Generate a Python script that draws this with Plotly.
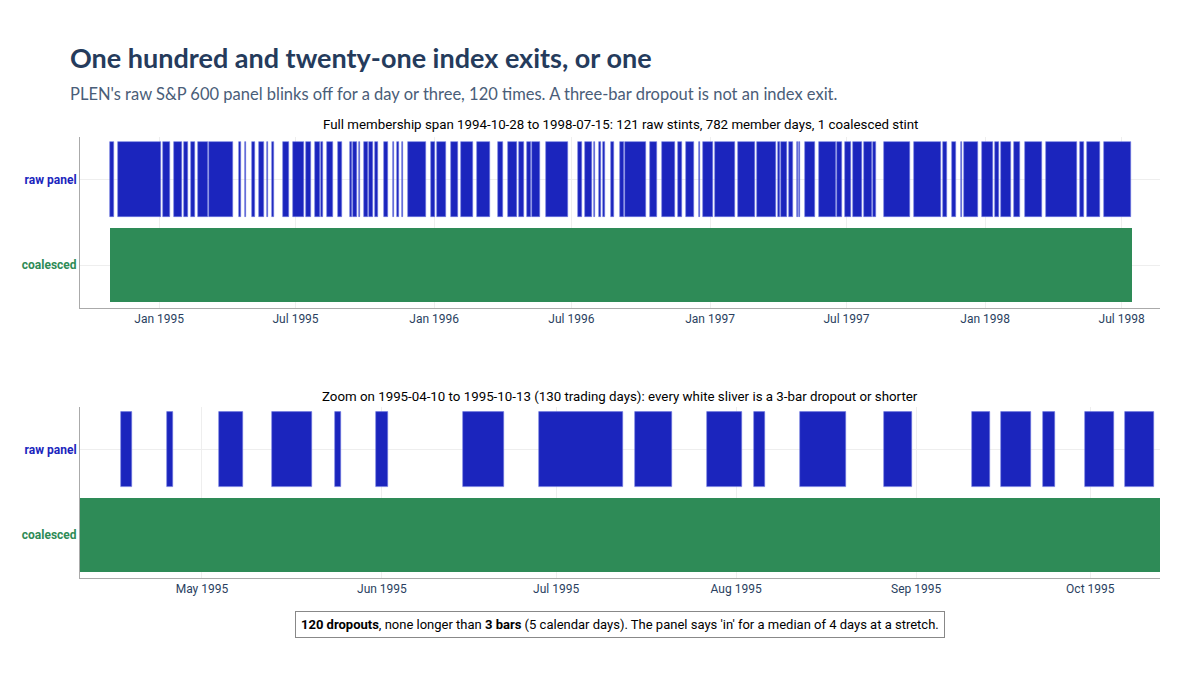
import pandas as pd
import plotly.graph_objects as go
from plotly.subplots import make_subplots

span_start = "1994-10-28"
span_end = "1998-07-15"
zoom_start = "1995-04-10"
zoom_end = "1995-10-13"

# raw stints, as day offsets from span_start (start, end)
raw_start = [0.4, 11.0, 70.4, 84.2, 98.4, 107.5, 117.1, 131.8,
             171, 179, 188, 197, 208, 215, 230, 243, 259.6, 272, 280, 288, 302.4,
             317.6, 322.7, 329.8, 337, 344, 352,
             363.8, 375.7, 381.1, 387.6, 394.9, 425.1, 434.2, 451.6, 465.8, 486.4,
             515.2, 528.0, 543.1, 552.8, 559.2, 578.0, 621.0, 629.6, 642.0, 648.4,
             653.9, 664.0, 676.8, 682.7, 716.2, 732.6, 752.8, 764.7, 781.1, 786.2,
             802.2, 832.4, 858.9, 886.4, 890.5, 901.0, 911.1, 913.8, 922.5, 940.8,
             964.6, 974.7, 985.2, 999.9, 1012.7, 1026.9, 1066.2, 1104.7, 1116.6,
             1128.9, 1133.0, 1156.8, 1174.2, 1181.5, 1199.4, 1213.5, 1241.5,
             1286.8, 1295.9, 1319.3]
raw_end = [5.0, 67.7, 79.6, 95.6, 103.8, 112.1, 129.9, 163.3,
           173, 180, 192, 204, 209, 217, 237, 257.5, 266, 278, 282, 296, 307.3,
           320.7, 327.8, 331.9, 342, 349, 356,
           368.3, 377.0, 383.0, 389.0, 419.6, 431.0, 446.1, 461.2, 481.4, 503.8,
           521.2, 539.5, 549.1, 557.8, 570.6, 608.1, 626.4, 639.7, 643.8, 650.7,
           657.1, 669.0, 681.8, 711.1, 726.2, 750.0, 758.3, 774.3, 783.0, 799.4,
           829.6, 856.2, 883.6, 888.2, 898.3, 905.6, 912.5, 915.2, 935.3, 962.8,
           971.0, 982.5, 998.0, 1010.4, 1015.9, 1061.2, 1101.9, 1110.1, 1122.5,
           1130.3, 1151.3, 1171.5, 1179.2, 1195.3, 1206.7, 1236.9, 1283.1,
           1292.3, 1313.3, 1354.0]

t0 = pd.Timestamp(span_start)
starts = [t0 + pd.Timedelta(days=s) for s in raw_start]
durs = [(e - s) * 86400000 for s, e in zip(raw_start, raw_end)]
coal_dur = (pd.Timestamp(span_end) - t0).total_seconds() * 1000

BLUE = "#1b25bd"
GREEN = "#2e8b57"

fig = make_subplots(rows=2, cols=1)
for r in (1, 2):
    fig.add_trace(go.Bar(y=["raw panel"] * len(starts), x=durs, base=starts, orientation="h",
                         marker=dict(color=BLUE, line=dict(width=0.6, color="#6f78e0")),
                         width=0.88, showlegend=False, hoverinfo="skip"), row=r, col=1)
    fig.add_trace(go.Bar(y=["coalesced"], x=[coal_dur], base=[span_start], orientation="h",
                         marker=dict(color=GREEN, line=dict(width=0)), width=0.86,
                         showlegend=False, hoverinfo="skip"), row=r, col=1)

ax = dict(type="date", showline=True, linecolor="#aaaaaa", gridcolor="#eeeeee",
          tickfont=dict(size=12, color="#2a3f5f"), ticks="")
fig.update_layout(
    xaxis=dict(ax, range=["1994-09-18", "1998-08-21"], domain=[0, 1],
               tickvals=["1995-01-01", "1995-07-01", "1996-01-01", "1996-07-01", "1997-01-01",
                         "1997-07-01", "1998-01-01", "1998-07-01"], tickformat="%b %Y"),
    xaxis2=dict(ax, range=[zoom_start, zoom_end], dtick="M1", tickformat="%b %Y"),
    yaxis=dict(domain=[0.556, 0.809], categoryorder="array", categoryarray=["coalesced", "raw panel"],
               showline=True, linecolor="#aaaaaa", gridcolor="#eeeeee", automargin=False),
    yaxis2=dict(domain=[0.156, 0.409], categoryorder="array", categoryarray=["coalesced", "raw panel"],
                showline=True, linecolor="#aaaaaa", gridcolor="#eeeeee", automargin=False),
    barmode="overlay", bargap=0,
    width=1200, height=675, plot_bgcolor="white", paper_bgcolor="white",
    margin=dict(l=72, r=48, t=0, b=0),
    font=dict(family="Roboto, sans-serif", color="#2a3f5f"),
)
for yname in ("yaxis", "yaxis2"):
    fig.layout[yname].tickvals = ["raw panel", "coalesced"]
    fig.layout[yname].ticktext = ["<b><span style='color:%s'>raw panel</span></b>" % BLUE,
                                  "<b><span style='color:%s'>coalesced</span></b>" % GREEN]
    fig.layout[yname].tickfont = dict(size=12)

fig.add_annotation(text="<b>One hundred and twenty-one index exits, or one</b>", xref="paper", yref="paper",
                   x=-0.0111, y=0.926, xanchor="left", yanchor="middle", showarrow=False,
                   font=dict(family="Lato, sans-serif", size=27, color="#253b5c"))
fig.add_annotation(text="PLEN's raw S&P 600 panel blinks off for a day or three, 120 times. A three-bar dropout is not an index exit.",
                   xref="paper", yref="paper", x=-0.0111, y=0.873, xanchor="left", yanchor="middle",
                   showarrow=False, font=dict(family="Lato, sans-serif", size=16.5, color="#4a5d78"))
fig.add_annotation(text="Full membership span 1994-10-28 to 1998-07-15: 121 raw stints, 782 member days, 1 coalesced stint",
                   xref="paper", yref="paper", x=0.5, y=0.827, yanchor="middle", showarrow=False,
                   font=dict(size=13.3, color="black"))
fig.add_annotation(text="Zoom on 1995-04-10 to 1995-10-13 (130 trading days): every white sliver is a 3-bar dropout or shorter",
                   xref="paper", yref="paper", x=0.5, y=0.425, yanchor="middle", showarrow=False,
                   font=dict(size=13.3, color="black"))
fig.add_annotation(text="<b>120 dropouts</b>, none longer than <b>3 bars</b> (5 calendar days). The panel says 'in' for a median of 4 days at a stretch.",
                   xref="paper", yref="paper", x=0.5, y=0.087, yanchor="middle", showarrow=False,
                   font=dict(size=13, color="black"), bordercolor="#888888", borderwidth=1,
                   borderpad=5, bgcolor="white")

fig.write_html("out.html")
